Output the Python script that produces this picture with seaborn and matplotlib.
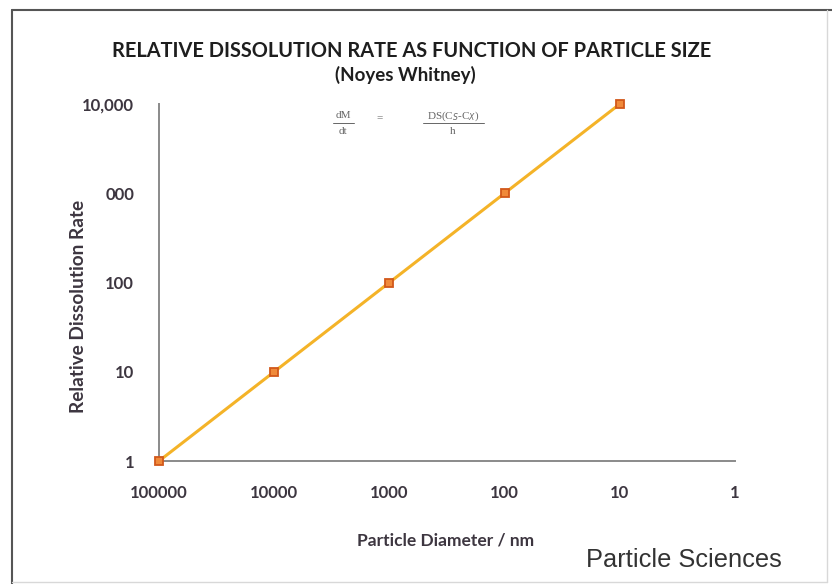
import matplotlib
matplotlib.use("Agg")
import matplotlib.pyplot as plt
import seaborn as sns
import pandas as pd
from matplotlib.lines import Line2D

sns.set_theme(style="white")
plt.rcParams['font.family'] = ['Lato', 'DejaVu Sans']

diameters = [100000, 10000, 1000, 100, 10]
rates = [1, 10, 100, 1000, 10000]
x_ticks = [100000, 10000, 1000, 100, 10, 1]
x_tick_labels = ["100000", "10000", "1000", "100", "10", "1"]
y_ticks = [1, 10, 100, 1000, 10000]
y_tick_labels = ["1", "10", "100", "000", "10,000"]

df = pd.DataFrame({"Particle Diameter / nm": diameters,
                   "Relative Dissolution Rate": rates})

W, H = 832, 584
fig = plt.figure(figsize=(W/100, H/100), dpi=100)
fig.patch.set_facecolor("white")
ax = fig.add_axes([159/W, 1-461/H, (735-159)/W, (461-104)/H])

sns.lineplot(data=df, x="Particle Diameter / nm", y="Relative Dissolution Rate",
             ax=ax, color="#F4B328", linewidth=2.2, marker="s", markersize=6,
             markerfacecolor="#F08A3A", markeredgecolor="#D2581A", markeredgewidth=1.3)
for ln in ax.lines:
    ln.set_clip_on(False)
    ln.set_zorder(5)

ax.set_xscale("log")
ax.set_yscale("log")
ax.set_xlim(100000, 1)
ax.set_ylim(1, 10000)
ax.set_xticks(x_ticks)
ax.set_xticklabels(x_tick_labels)
ax.set_yticks(y_ticks)
ax.set_yticklabels(y_tick_labels)
ax.minorticks_off()

txtc = "#3d3640"
for s in ["top", "right"]:
    ax.spines[s].set_visible(False)
for s in ["left", "bottom"]:
    ax.spines[s].set_color("#8a8a8a")
    ax.spines[s].set_linewidth(1.4)
ax.tick_params(axis="both", direction="in", length=4, width=1.2, color="#8a8a8a",
               labelsize=12, labelcolor=txtc)
ax.tick_params(axis="y", pad=18)
ax.tick_params(axis="x", pad=17)
for lab in ax.get_xticklabels() + ax.get_yticklabels():
    lab.set_fontweight("bold")
ax.set_xlabel("Particle Diameter / nm", fontsize=12.5, fontweight="bold", color=txtc)
ax.xaxis.set_label_coords((446-159)/(735-159), -(540-461)/(461-104))
ax.set_ylabel("Relative Dissolution Rate", fontsize=13.7, fontweight="bold", color=txtc)
ax.yaxis.set_label_coords(-(159-79)/(735-159), (461-306)/(461-104))
ax.yaxis.label.set_va("center")
ax.xaxis.label.set_va("center")
ax.patch.set_alpha(0)

fig.text(412/W, 1-51/H, "RELATIVE DISSOLUTION RATE AS FUNCTION OF PARTICLE SIZE",
         ha="center", va="center", fontsize=14.4, fontweight="bold", color="#1e1e1e")
fig.text(405/W, 1-75/H, "(Noyes Whitney)", ha="center", va="center",
         fontsize=13.5, fontweight="bold", color="#1e1e1e")

fc = "#666666"
ff = ["Liberation Serif", "DejaVu Serif"]
fig.text(343/W, 1-116/H, "dM", ha="center", va="center", fontsize=8, color=fc, family=ff)
fig.text(343/W, 1-131/H, "dt", ha="center", va="center", fontsize=8, color=fc, family=ff)
fig.text(380/W, 1-118/H, "=", ha="center", va="center", fontsize=8, color=fc, family=ff)
fig.text(453/W, 1-116/H, r"DS(C$_S$-C$_X$)", ha="center", va="center", fontsize=8,
         color=fc, family=ff)
fig.text(453/W, 1-131/H, "h", ha="center", va="center", fontsize=8, color=fc, family=ff)
fig.lines.append(Line2D([333/W, 354/W], [1-123/H, 1-123/H], transform=fig.transFigure,
                        color=fc, linewidth=0.7))
fig.lines.append(Line2D([423/W, 484/W], [1-123/H, 1-123/H], transform=fig.transFigure,
                        color=fc, linewidth=0.7))

fig.text(782/W, 1-560/H, "Particle Sciences", ha="right", va="center",
         fontsize=18.3, color="#333333", family="Liberation Sans")

# outer frame of the original graphic
fig.lines.append(Line2D([12/W, 12/W], [0, 1-10/H], transform=fig.transFigure,
                        color="#555555", linewidth=1.5))
fig.lines.append(Line2D([12/W, 1], [1-10/H, 1-10/H], transform=fig.transFigure,
                        color="#555555", linewidth=1.5))
fig.lines.append(Line2D([827/W, 827/W], [2/H, 1-10/H], transform=fig.transFigure,
                        color="#d8d8d8", linewidth=1.0))
fig.lines.append(Line2D([12/W, 827/W], [2/H, 2/H], transform=fig.transFigure,
                        color="#d8d8d8", linewidth=1.0))

fig.savefig("out.png", dpi=100, facecolor="white")
